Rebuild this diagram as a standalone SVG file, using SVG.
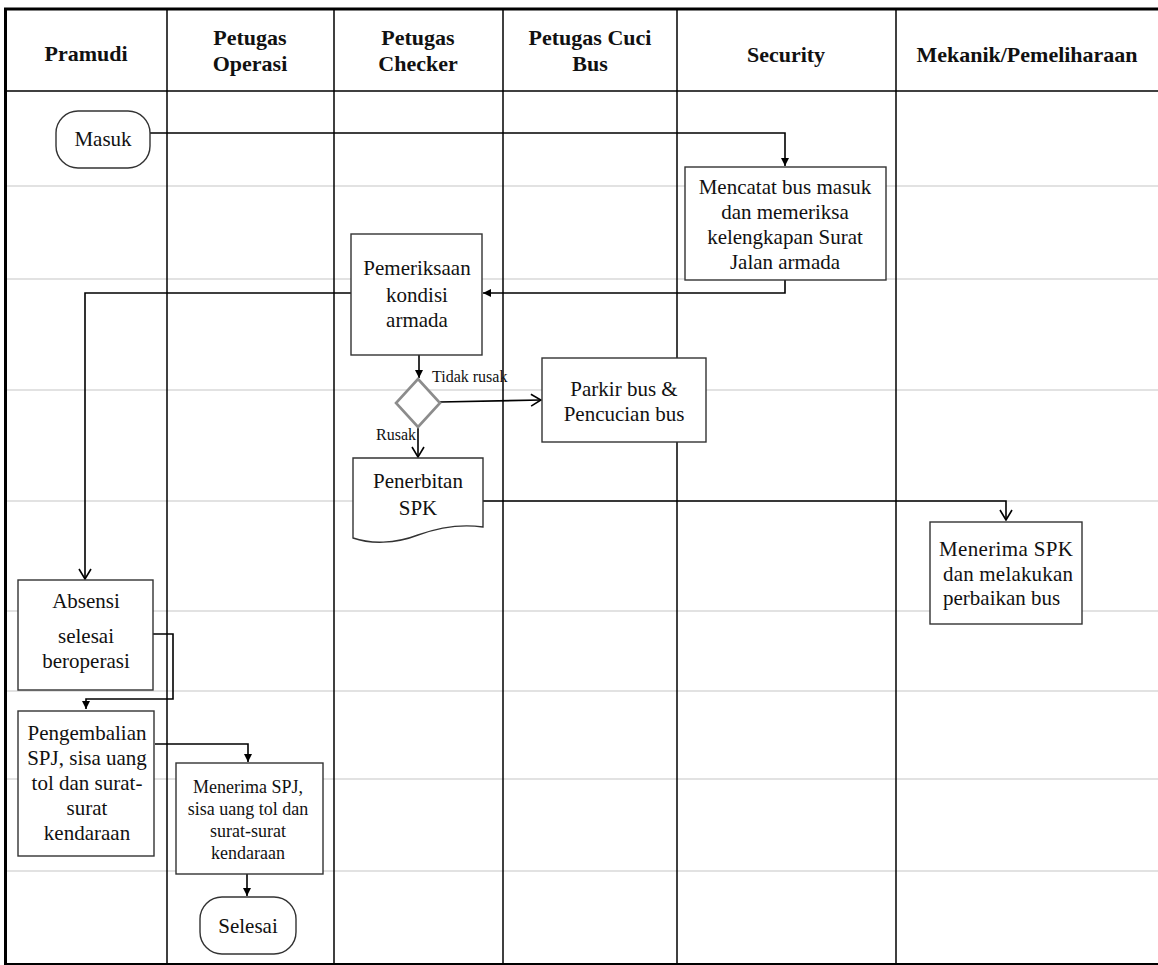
<svg xmlns="http://www.w3.org/2000/svg" width="1158" height="965" viewBox="0 0 1158 965">
<style>
text{font-family:"Liberation Serif","Times New Roman",serif;fill:#111}
.hd{font-size:22px;font-weight:bold;text-anchor:middle}
.t{font-size:21px;text-anchor:middle}
.s{font-size:18px;text-anchor:middle}
.lb{font-size:16px}
.box{fill:#fff;stroke:#333;stroke-width:1.4}
.row{stroke:#d9d9d9;stroke-width:1.5}
.col{stroke:#000;stroke-width:1.5}
.c{fill:none;stroke:#000;stroke-width:1.6}
</style>
<defs>
<marker id="tri" viewBox="0 0 10 10" refX="10" refY="5" markerWidth="8" markerHeight="8" markerUnits="userSpaceOnUse" orient="auto">
<path d="M0,0 L10,5 L0,10 Z" fill="#000"/>
</marker>
<marker id="vee" viewBox="0 0 12 14" refX="11" refY="7" markerWidth="12" markerHeight="14" markerUnits="userSpaceOnUse" orient="auto">
<path d="M1,1 L11,7 L1,13" fill="none" stroke="#000" stroke-width="1.6"/>
</marker>
</defs>
<rect width="1158" height="965" fill="#fff"/>
<g id="grid">
<line class="row" x1="5" y1="186" x2="1158" y2="186"/>
<line class="row" x1="5" y1="279" x2="1158" y2="279"/>
<line class="row" x1="5" y1="390" x2="1158" y2="390"/>
<line class="row" x1="5" y1="501" x2="1158" y2="501"/>
<line class="row" x1="5" y1="611" x2="1158" y2="611"/>
<line class="row" x1="5" y1="691" x2="1158" y2="691"/>
<line class="row" x1="5" y1="779" x2="1158" y2="779"/>
<line class="row" x1="5" y1="871" x2="1158" y2="871"/>
<line class="col" x1="167" y1="9" x2="167" y2="964"/>
<line class="col" x1="334" y1="9" x2="334" y2="964"/>
<line class="col" x1="503" y1="9" x2="503" y2="964"/>
<line class="col" x1="677" y1="9" x2="677" y2="964"/>
<line class="col" x1="896" y1="9" x2="896" y2="964"/>
<line x1="5" y1="91" x2="1158" y2="91" stroke="#000" stroke-width="1.6"/>
<line x1="4" y1="9" x2="1158" y2="9" stroke="#000" stroke-width="3"/>
<line x1="5.5" y1="8" x2="5.5" y2="965" stroke="#000" stroke-width="3"/>
<line x1="5" y1="964" x2="1158" y2="964" stroke="#000" stroke-width="2"/>
</g>
<g id="headers">
<text class="hd" x="86" y="61">Pramudi</text>
<text class="hd" x="250" y="45">Petugas</text>
<text class="hd" x="250" y="71">Operasi</text>
<text class="hd" x="418" y="45">Petugas</text>
<text class="hd" x="418" y="71">Checker</text>
<text class="hd" x="590" y="45">Petugas Cuci</text>
<text class="hd" x="590" y="71">Bus</text>
<text class="hd" x="786" y="62">Security</text>
<text class="hd" x="1027" y="62">Mekanik/Pemeliharaan</text>
</g>
<g id="connectors">
<polyline class="c" points="150,133 785,133 785,166" marker-end="url(#tri)"/>
<polyline class="c" points="785,280 785,293 483,293" marker-end="url(#tri)"/>
<polyline class="c" points="351,293 85,293 85,579" marker-end="url(#vee)"/>
<line class="c" x1="419" y1="355" x2="419" y2="378" marker-end="url(#tri)"/>
<line class="c" x1="440" y1="402" x2="541" y2="400" marker-end="url(#vee)"/>
<line class="c" x1="418" y1="427" x2="418" y2="457" marker-end="url(#vee)"/>
<polyline class="c" points="483,501 1006,501 1006,520" marker-end="url(#vee)"/>
<polyline class="c" points="153,634 173,634 173,699 86,699 86,709" marker-end="url(#tri)"/>
<polyline class="c" points="155,744 248,744 248,762" marker-end="url(#tri)"/>
<line class="c" x1="247" y1="874" x2="247" y2="896" marker-end="url(#tri)"/>
</g>
<g id="masuk">
<rect class="box" x="56" y="111" width="94" height="57" rx="22" ry="22"/>
<text class="t" x="103" y="146">Masuk</text>
</g>
<g id="mencatat">
<rect class="box" x="685" y="167" width="201" height="113"/>
<text class="t" x="785" y="194">Mencatat bus masuk</text>
<text class="t" x="785" y="219">dan memeriksa</text>
<text class="t" x="785" y="244">kelengkapan Surat</text>
<text class="t" x="785" y="269">Jalan armada</text>
</g>
<g id="pemeriksaan">
<rect class="box" x="351" y="234" width="131" height="121"/>
<text class="t" x="417" y="275">Pemeriksaan</text>
<text class="t" x="417" y="302">kondisi</text>
<text class="t" x="417" y="327">armada</text>
</g>
<g id="keputusan">
<polygon points="418,379 440,403 418,427 396,403" fill="#fff" stroke="#8c8c8c" stroke-width="2.6"/>
<text class="lb" x="432" y="382">Tidak rusak</text>
<text class="lb" x="376" y="440">Rusak</text>
</g>
<g id="parkir">
<rect class="box" x="542" y="358" width="164" height="84"/>
<text class="t" x="624" y="396">Parkir bus &amp;</text>
<text class="t" x="624" y="421">Pencucian bus</text>
</g>
<g id="penerbitan">
<path class="box" d="M353,458 H483 V527 C462,524 440,527 418,535 C395,544 370,544 353,538 Z"/>
<text class="t" x="418" y="488">Penerbitan</text>
<text class="t" x="418" y="515">SPK</text>
</g>
<g id="menerima-spk">
<rect class="box" x="930" y="522" width="152" height="102"/>
<text class="t" x="939" y="556" style="text-anchor:start" textLength="134" lengthAdjust="spacing">Menerima SPK</text>
<text class="t" x="943" y="581" style="text-anchor:start" textLength="130" lengthAdjust="spacing">dan melakukan</text>
<text class="t" x="943" y="605" style="text-anchor:start">perbaikan bus</text>
</g>
<g id="absensi">
<rect class="box" x="18" y="580" width="135" height="110"/>
<text class="t" x="86" y="608">Absensi</text>
<text class="t" x="86" y="643">selesai</text>
<text class="t" x="86" y="668">beroperasi</text>
</g>
<g id="pengembalian">
<rect class="box" x="18" y="711" width="136" height="145"/>
<text class="t" x="87" y="740">Pengembalian</text>
<text class="t" x="87" y="765">SPJ, sisa uang</text>
<text class="t" x="87" y="790">tol dan surat-</text>
<text class="t" x="87" y="815">surat</text>
<text class="t" x="87" y="840">kendaraan</text>
</g>
<g id="menerima-spj">
<rect class="box" x="176" y="763" width="147" height="111"/>
<text class="s" x="248" y="793">Menerima SPJ,</text>
<text class="s" x="248" y="815">sisa uang tol dan</text>
<text class="s" x="248" y="837">surat-surat</text>
<text class="s" x="248" y="859">kendaraan</text>
</g>
<g id="selesai">
<rect class="box" x="200" y="897" width="96" height="57" rx="22" ry="22"/>
<text class="t" x="248" y="933">Selesai</text>
</g>
</svg>
